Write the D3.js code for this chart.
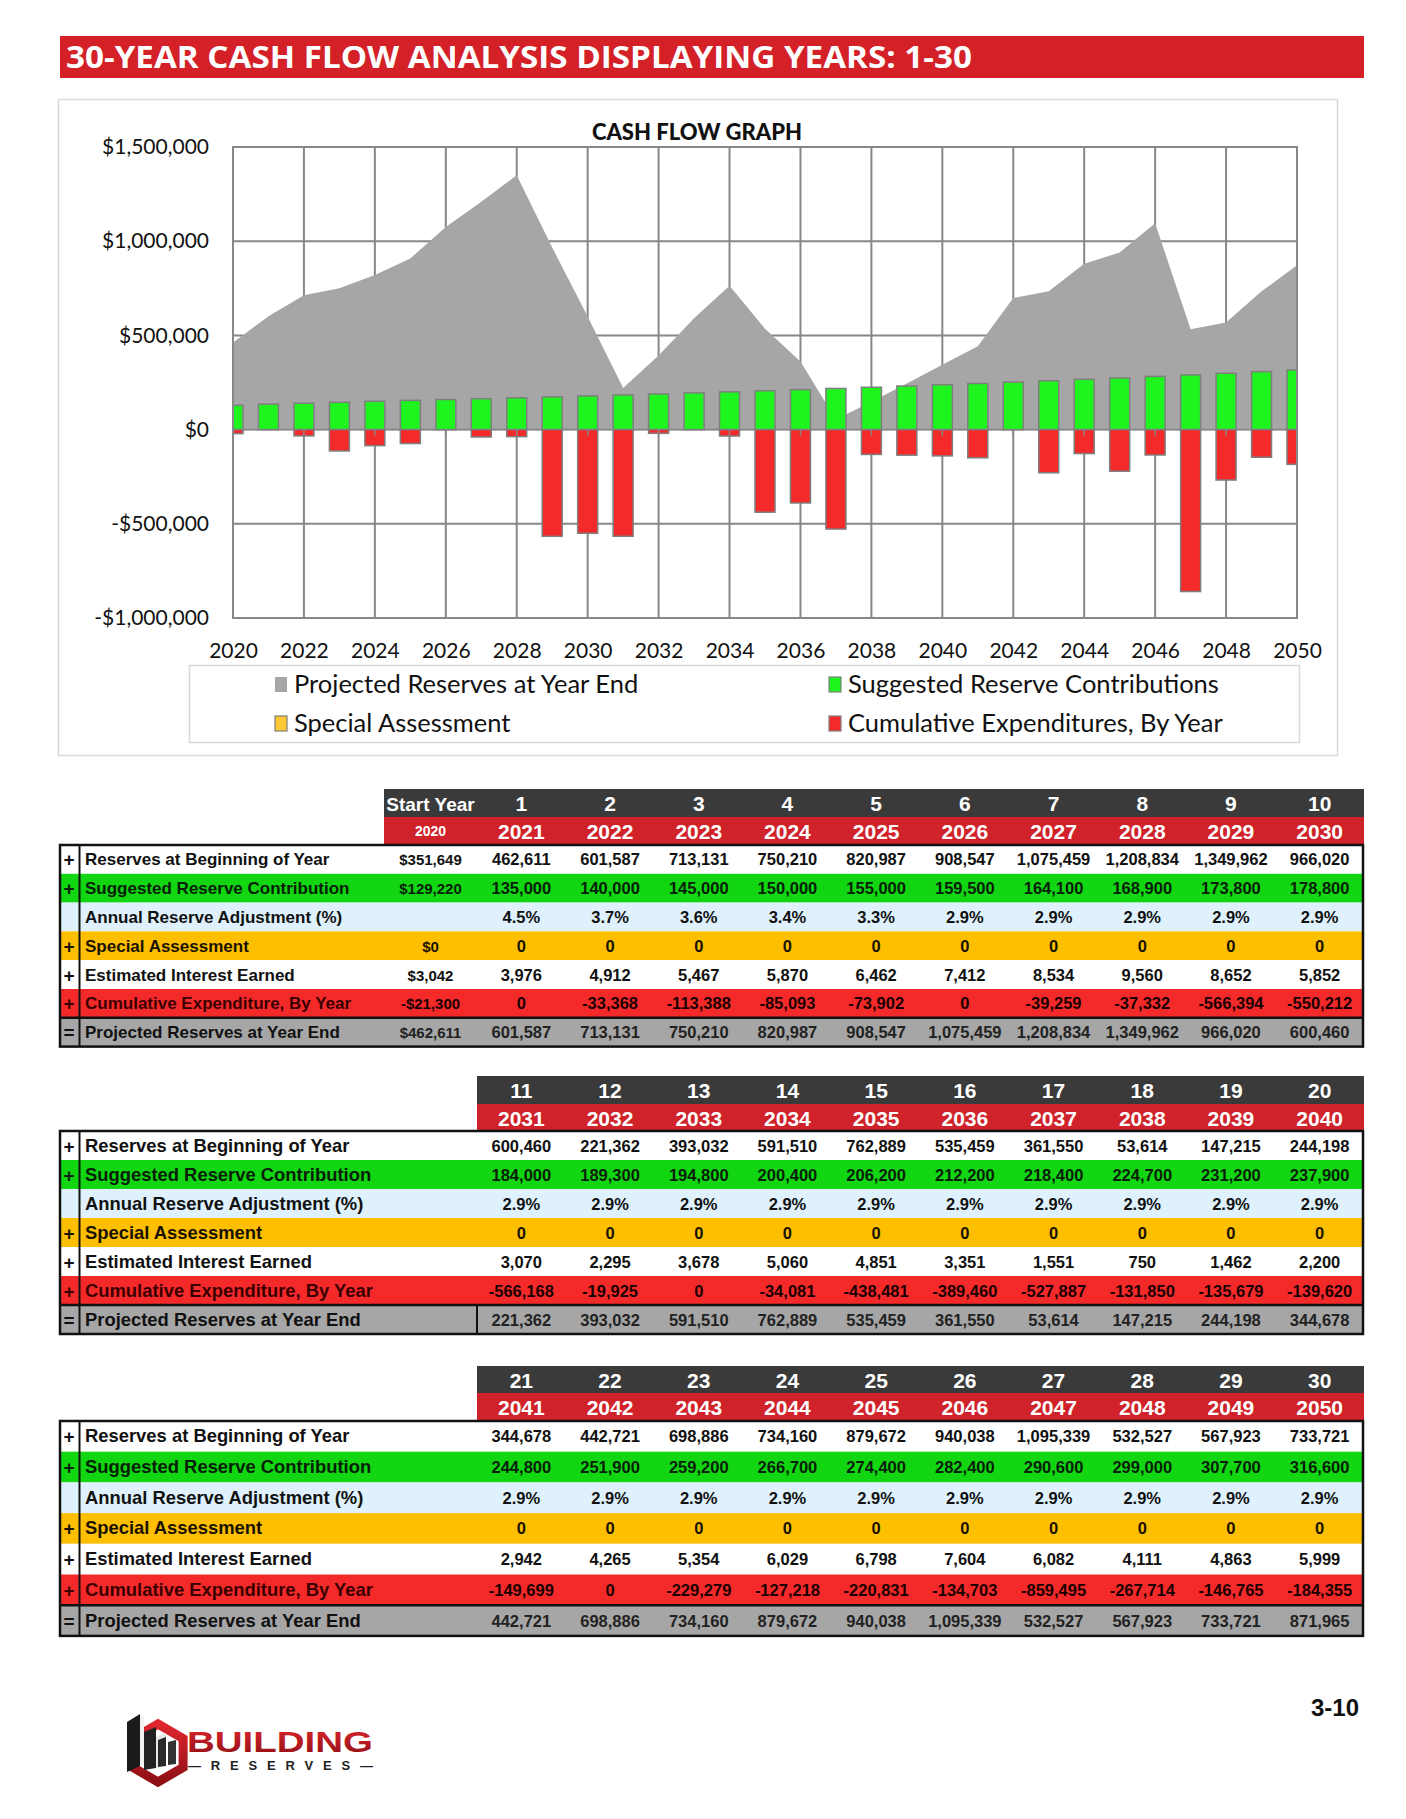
<!DOCTYPE html>
<html><head><meta charset="utf-8">
<script src="https://cdn.jsdelivr.net/npm/d3@7"></script>
<style>
html,body{margin:0;padding:0;background:#fff;}
svg{display:block;}
</style></head><body>
<svg id="page" width="1406" height="1819"></svg>
<script>
// ---------------- DATA ----------------
const years = [2020,2021,2022,2023,2024,2025,2026,2027,2028,2029,2030,2031,2032,2033,2034,2035,2036,2037,2038,2039,2040,2041,2042,2043,2044,2045,2046,2047,2048,2049,2050];
const yearNumbers = [0,1,2,3,4,5,6,7,8,9,10,11,12,13,14,15,16,17,18,19,20,21,22,23,24,25,26,27,28,29,30];
const beginReserves = [351649,462611,601587,713131,750210,820987,908547,1075459,1208834,1349962,966020,600460,221362,393032,591510,762889,535459,361550,53614,147215,244198,344678,442721,698886,734160,879672,940038,1095339,532527,567923,733721];
const contributions = [129220,135000,140000,145000,150000,155000,159500,164100,168900,173800,178800,184000,189300,194800,200400,206200,212200,218400,224700,231200,237900,244800,251900,259200,266700,274400,282400,290600,299000,307700,316600];
const adjustments = [null,4.5,3.7,3.6,3.4,3.3,2.9,2.9,2.9,2.9,2.9,2.9,2.9,2.9,2.9,2.9,2.9,2.9,2.9,2.9,2.9,2.9,2.9,2.9,2.9,2.9,2.9,2.9,2.9,2.9,2.9];
const specialAssessment = [0,0,0,0,0,0,0,0,0,0,0,0,0,0,0,0,0,0,0,0,0,0,0,0,0,0,0,0,0,0,0];
const interestEarned = [3042,3976,4912,5467,5870,6462,7412,8534,9560,8652,5852,3070,2295,3678,5060,4851,3351,1551,750,1462,2200,2942,4265,5354,6029,6798,7604,6082,4111,4863,5999];
const expenditures = [-21300,0,-33368,-113388,-85093,-73902,0,-39259,-37332,-566394,-550212,-566168,-19925,0,-34081,-438481,-389460,-527887,-131850,-135679,-139620,-149699,0,-229279,-127218,-220831,-134703,-859495,-267714,-146765,-184355];
const endReserves = [462611,601587,713131,750210,820987,908547,1075459,1208834,1349962,966020,600460,221362,393032,591510,762889,535459,361550,53614,147215,244198,344678,442721,698886,734160,879672,940038,1095339,532527,567923,733721,871965];

const yTicks = [-1000000,-500000,0,500000,1000000,1500000];
const xTicks = [2020,2022,2024,2026,2028,2030,2032,2034,2036,2038,2040,2042,2044,2046,2048,2050];
const legendLabels = ["Projected Reserves at Year End","Suggested Reserve Contributions","Special Assessment","Cumulative Expenditures, By Year"];
const rowLabels = ["Reserves at Beginning of Year","Suggested Reserve Contribution","Annual Reserve Adjustment (%)","Special Assessment","Estimated Interest Earned","Cumulative Expenditure, By Year","Projected Reserves at Year End"];
const rowSigns = ["+","+","","+","+","+","="];
const titleText = "30-YEAR CASH FLOW ANALYSIS DISPLAYING YEARS: 1-30";

// ---------------- STYLE ----------------
const C = {
  titleRed:"#d42027", gray:"#a6a6a6", green:"#1ef51e", red:"#f42a2a", gold:"#ffc935",
  grid:"#878787", dark:"#3a3a3a", yearRed:"#d0222a",
  rowFill:["#ffffff","#11d611","#def1fc","#fdbf00","#ffffff","#f42a2a","#a6a6a6"],
  rowText:["#111","#072007","#111","#1a1200","#111","#3a0000","#111"],
  valText:["#111","#072007","#111","#1a1200","#111","#1a0000","#222"]
};
const chartFont = "Lato, 'Open Sans', sans-serif";
const tblFont = "'Liberation Sans', Arial, Helvetica, sans-serif";

const svg = d3.select('#page');

// ---------------- TITLE BAR ----------------
svg.append('rect').attr('x',60).attr('y',36).attr('width',1304).attr('height',42).attr('fill',C.titleRed);
svg.append('text').attr('x',66).attr('y',68).text(titleText)
  .attr('font-family',"'Open Sans', sans-serif").attr('font-weight',700).attr('font-size',31)
  .attr('textLength',906).attr('lengthAdjust','spacingAndGlyphs')
  .attr('fill','#fff');

// ---------------- CHART PANEL ----------------
svg.append('rect').attr('x',58.5).attr('y',99.5).attr('width',1279).attr('height',656)
  .attr('fill','#fff').attr('stroke','#d9d9d9').attr('stroke-width',1.5);

const x = d3.scaleLinear().domain([2020,2050]).range([233,1297]);
const y = d3.scaleLinear().domain([-1000000,1500000]).range([618,147]);

svg.append('text').attr('x',697).attr('y',140).attr('text-anchor','middle')
  .attr('font-family',chartFont).attr('font-weight',900).attr('font-size',22).attr('fill','#111')
  .text('CASH FLOW GRAPH');

svg.select('defs').empty();
const defs = svg.append('defs');
defs.append('clipPath').attr('id','plotclip')
  .append('rect').attr('x',233).attr('y',147).attr('width',1064).attr('height',471);

const plot = svg.append('g');
// gridlines
plot.selectAll('line.hg').data(yTicks).join('line').attr('class','hg')
  .attr('x1',233).attr('x2',1297).attr('y1',d=>y(d)).attr('y2',d=>y(d))
  .attr('stroke',C.grid).attr('stroke-width',2);
plot.selectAll('line.vg').data(xTicks).join('line').attr('class','vg')
  .attr('x1',d=>x(d)).attr('x2',d=>x(d)).attr('y1',147).attr('y2',618)
  .attr('stroke',C.grid).attr('stroke-width',2);

// area
const area = d3.area().x((d,i)=>x(years[i])).y0(y(0)).y1(d=>y(d));
plot.append('path').datum(endReserves).attr('d',area).attr('fill',C.gray);

// zero axis line
plot.append('line').attr('x1',233).attr('x2',1297).attr('y1',y(0)).attr('y2',y(0))
  .attr('stroke',C.grid).attr('stroke-width',1.5);

// bars
const bw = 20;
const bars = plot.append('g').attr('clip-path','url(#plotclip)');
bars.selectAll('rect.g').data(contributions).join('rect').attr('class','g')
  .attr('x',(d,i)=>x(years[i])-bw/2).attr('width',bw)
  .attr('y',d=>y(d)).attr('height',d=>y(0)-y(d))
  .attr('fill',C.green).attr('stroke','#7f7f7f').attr('stroke-width',1.5);
bars.selectAll('rect.r').data(expenditures).join('rect').attr('class','r')
  .attr('x',(d,i)=>x(years[i])-bw/2).attr('width',bw)
  .attr('y',y(0)).attr('height',d=>y(d)-y(0))
  .attr('fill',C.red).attr('stroke',d=>d<0?'#7f7f7f':'none').attr('stroke-width',1.5);

// small ticks at zero axis
plot.selectAll('line.tk').data(xTicks).join('line').attr('class','tk')
  .attr('x1',d=>x(d)).attr('x2',d=>x(d)).attr('y1',y(0)).attr('y2',y(0)+6)
  .attr('stroke',C.grid).attr('stroke-width',1.5);

// plot border
plot.append('rect').attr('x',233).attr('y',147).attr('width',1064).attr('height',471)
  .attr('fill','none').attr('stroke',C.grid).attr('stroke-width',2);

// axes
const fmtMoney = v => (v<0?"-$":"$") + d3.format(",")(Math.abs(v));
const yAxis = svg.append('g').attr('transform','translate(233,0)')
  .call(d3.axisLeft(y).tickValues(yTicks).tickFormat(fmtMoney).tickSize(0).tickPadding(24));
yAxis.select('.domain').remove();
yAxis.selectAll('text').attr('font-family',chartFont).attr('font-size',21).attr('fill','#111');

const xAxis = svg.append('g').attr('transform','translate(0,618)')
  .call(d3.axisBottom(x).tickValues(xTicks).tickFormat(d3.format("d")).tickSize(0).tickPadding(25));
xAxis.select('.domain').remove();
xAxis.selectAll('text').attr('font-family',chartFont).attr('font-size',21).attr('fill','#111');

// legend
svg.append('rect').attr('x',189.5).attr('y',665.5).attr('width',1110).attr('height',77)
  .attr('fill','#fff').attr('stroke','#d9d9d9').attr('stroke-width',1.5);
const legendPos = [[275,684],[829,684],[275,723],[829,723]];
const legendColors = [C.gray,C.green,C.gold,C.red];
const lg = svg.append('g').selectAll('g').data(legendLabels).join('g')
  .attr('transform',(d,i)=>`translate(${legendPos[i][0]},${legendPos[i][1]})`);
lg.append('rect').attr('x',0).attr('y',-7).attr('width',12).attr('height',15)
  .attr('fill',(d,i)=>legendColors[i]).attr('stroke',(d,i)=>i===0?'none':'#7f7f7f').attr('stroke-width',1.2);
lg.append('text').attr('x',19).attr('y',9).text(d=>d)
  .attr('font-family',chartFont).attr('font-size',25.5).attr('fill','#111');

// ---------------- TABLES ----------------
const colW = (1364-477)/10;
const rowData = [beginReserves,contributions,adjustments,specialAssessment,interestEarned,expenditures,endReserves];
function fmtCell(ri, v, isStart){
  if (ri===2) return v==null ? "" : v.toFixed(1)+"%";
  if (isStart) return fmtMoney(v);
  return (v<0?"-":"") + d3.format(",")(Math.abs(v));
}
const tables = [
  {first:0, start:true,  top:789,  hH:28, yH:28, rH:28.8, lab:17,   boxLast:false},
  {first:11,start:false, top:1076, hH:28, yH:27, rH:29,   lab:18.4, boxLast:true},
  {first:21,start:false, top:1366, hH:27, yH:28, rH:30.7, lab:18.4, boxLast:false}
];
tables.forEach(t=>{
  const G = svg.append('g');
  const idx = t.start ? years.slice(0,11).map((d,i)=>i) : years.slice(t.first,t.first+10).map((d,i)=>t.first+i);
  const cols = idx.map((yi,k)=>{
    if (t.start) return k===0 ? {yi, cx:430.5, start:true} : {yi, cx:477+colW*(k-0.5)};
    return {yi, cx:477+colW*(k+0.5)};
  });
  const hx0 = t.start ? 384 : 477;
  const yTop = t.top + t.hH;
  const body = yTop + t.yH;
  G.append('rect').attr('x',hx0).attr('y',t.top).attr('width',1364-hx0).attr('height',t.hH).attr('fill',C.dark);
  G.append('rect').attr('x',hx0).attr('y',yTop).attr('width',1364-hx0).attr('height',t.yH).attr('fill',C.yearRed);
  // header texts
  G.selectAll('text.hn').data(cols).join('text').attr('class','hn')
    .attr('x',d=>d.cx).attr('y',t.top+t.hH/2+8).attr('text-anchor','middle')
    .attr('font-family',tblFont).attr('font-weight',700).attr('fill','#fff')
    .attr('font-size',d=>d.start?19:21)
    .text(d=>d.start?"Start Year":yearNumbers[d.yi]);
  G.selectAll('text.hy').data(cols).join('text').attr('class','hy')
    .attr('x',d=>d.cx).attr('y',d=>yTop+t.yH/2+(d.start?5:8)).attr('text-anchor','middle')
    .attr('font-family',tblFont).attr('font-weight',700).attr('fill','#fff')
    .attr('font-size',d=>d.start?14:21)
    .text(d=>years[d.yi]);
  // body rows
  rowLabels.forEach((lab,ri)=>{
    const ry = body + ri*t.rH;
    G.append('rect').attr('x',59).attr('y',ry).attr('width',1305).attr('height',t.rH).attr('fill',C.rowFill[ri]);
    G.append('text').attr('x',69).attr('y',ry+t.rH/2+7).attr('text-anchor','middle')
      .attr('font-family',tblFont).attr('font-weight',700).attr('font-size',19).attr('fill',C.rowText[ri])
      .text(rowSigns[ri]);
    G.append('text').attr('x',85).attr('y',ry+t.rH/2+6).attr('font-family',tblFont).attr('font-weight',700)
      .attr('font-size',t.lab).attr('fill',C.rowText[ri]).text(lab);
    G.selectAll('text.v'+ri).data(cols).join('text').attr('class','v'+ri)
      .attr('x',d=>d.cx).attr('y',ry+t.rH/2+6).attr('text-anchor','middle')
      .attr('font-family',tblFont).attr('font-weight',700)
      .attr('font-size',d=>d.start?15:16.5).attr('fill',C.valText[ri])
      .text(d=>fmtCell(ri,rowData[ri][d.yi],d.start));
  });
  const bottom = body + 7*t.rH;
  const lastTop = body + 6*t.rH;
  // borders
  G.append('rect').attr('x',60).attr('y',body).attr('width',1303).attr('height',bottom-body)
    .attr('fill','none').attr('stroke','#111').attr('stroke-width',2.5);
  G.append('line').attr('x1',79.5).attr('x2',79.5).attr('y1',body).attr('y2',bottom).attr('stroke','#111').attr('stroke-width',2);
  G.append('line').attr('x1',60).attr('x2',1363).attr('y1',lastTop).attr('y2',lastTop).attr('stroke','#111').attr('stroke-width',2.5);
  if (t.boxLast) G.append('line').attr('x1',477).attr('x2',477).attr('y1',lastTop).attr('y2',bottom).attr('stroke','#111').attr('stroke-width',2);
});

// ---------------- FOOTER ----------------
svg.append('text').attr('x',1359).attr('y',1716).attr('text-anchor','end')
  .attr('font-family',tblFont).attr('font-weight',700).attr('font-size',24).attr('fill','#111').text('3-10');

// logo
const logo = svg.append('g');
const grad = defs.append('linearGradient').attr('id','lg').attr('x1',0).attr('y1',0).attr('x2',0).attr('y2',1);
grad.append('stop').attr('offset','0%').attr('stop-color','#e0262e');
grad.append('stop').attr('offset','100%').attr('stop-color','#8e0f15');
const hex = d3.range(6).map(k=>{const a=Math.PI/3*k - Math.PI/2; return [158+29*Math.cos(a), 1753+29*Math.sin(a)];});
logo.append('polygon').attr('points',hex.map(p=>p.join(',')).join(' ')).attr('fill','none').attr('stroke','url(#lg)').attr('stroke-width',9);
logo.append('polygon').attr('points','127,1722 140,1714 140,1766 127,1772').attr('fill','#1a1a1a');
logo.append('polygon').attr('points','140,1714 144,1717 144,1764 140,1766').attr('fill','#f2f2f2');
logo.append('polygon').attr('points','144,1732 156,1727 156,1768 144,1770').attr('fill','#222');
logo.append('polygon').attr('points','156,1737 166,1733 166,1766 156,1768').attr('fill','#e8e8e8');
logo.append('polygon').attr('points','158,1740 166,1737 166,1766 158,1767').attr('fill','#2a2a2a');
logo.append('polygon').attr('points','168,1742 176,1740 176,1764 168,1765').attr('fill','#333');
logo.append('text').attr('x',187).attr('y',1752).attr('font-family',tblFont).attr('font-weight',700)
  .attr('font-size',30).attr('textLength',186).attr('lengthAdjust','spacingAndGlyphs')
  .attr('fill','url(#lg)').text('BUILDING');
logo.append('text').attr('x',188).attr('y',1770).attr('font-family',tblFont).attr('font-weight',700)
  .attr('font-size',13).attr('textLength',185).attr('lengthAdjust','spacing')
  .attr('fill','#222').text('—RESERVES—');
</script>
</body></html>
